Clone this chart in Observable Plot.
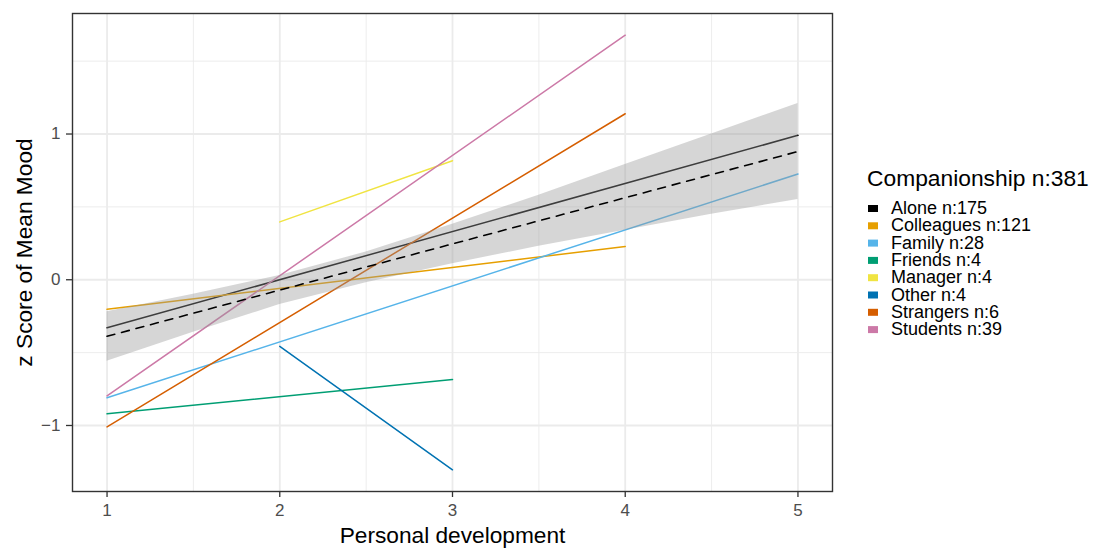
<!DOCTYPE html>
<html>
<head>
<meta charset="utf-8">
<script src="https://cdn.jsdelivr.net/npm/d3@7"></script>
<script src="https://cdn.jsdelivr.net/npm/@observablehq/plot@0.6"></script>
<style>
  html, body { margin: 0; padding: 0; background: white; }
  #wrap { position: relative; width: 1095px; height: 549px; font-family: "Liberation Sans", Arial, Helvetica, sans-serif; }
  #chart { position: absolute; left: 0; top: 0; }
  #legend { position: absolute; left: 850px; top: 0; }
</style>
</head>
<body>
<div id="wrap"><div id="chart"></div><svg id="legend" width="245" height="549"></svg></div>
<script>
// ---- data ----
const groups = ["Alone", "Colleagues", "Family", "Friends", "Manager", "Other", "Strangers", "Students"];
const counts = [175, 121, 28, 4, 4, 4, 6, 39];
const totalN = 381;
const colors = ["#000000", "#E69F00", "#56B4E9", "#009E73", "#F0E442", "#0072B2", "#D55E00", "#CC79A7"];
const xStart = [1, 1, 1, 1, 2, 2, 1, 1];
const xEnd   = [5, 4, 5, 3, 3, 3, 4, 4];
const yStart = [-0.330, -0.203, -0.810, -0.920, 0.397, -0.457, -1.010, -0.797];
const yEnd   = [0.991, 0.228, 0.726, -0.685, 0.817, -1.304, 1.139, 1.678];

const overallX = [1, 5];
const overallY = [-0.388, 0.880];

const bandX  = [1, 1.5, 2, 2.5, 3, 3.5, 4, 4.5, 5];
const bandLo = [-0.56, -0.36, -0.17, -0.02, 0.11, 0.23, 0.34, 0.45, 0.55];
const bandHi = [-0.22, -0.10, 0.03, 0.19, 0.38, 0.58, 0.79, 1.00, 1.21];

const xTicks = [1, 2, 3, 4, 5];
const xMinor = [1.5, 2.5, 3.5, 4.5];
const yTicks = [-1, 0, 1];
const yMinor = [-0.5, 0.5, 1.5];

// ---- tables built from arrays ----
const segs = [];
groups.forEach((g, i) => {
  segs.push({group: g, x: xStart[i], y: yStart[i]});
  segs.push({group: g, x: xEnd[i], y: yEnd[i]});
});
const overall = overallX.map((x, i) => ({x, y: overallY[i]}));
const band = bandX.map((x, i) => ({x, lo: bandLo[i], hi: bandHi[i]}));

const font = "Liberation Sans, Arial, Helvetica, sans-serif";
const fmt = d3.format("d");

const plot = Plot.plot({
  width: 850,
  height: 549,
  marginLeft: 72,
  marginRight: 18,
  marginTop: 13,
  marginBottom: 58,
  style: {fontFamily: font, background: "white", overflow: "visible"},
  x: {domain: [0.8, 5.2]},
  y: {domain: [-1.453, 1.827]},
  color: {domain: groups, range: colors},
  marks: [
    Plot.gridX(xMinor, {stroke: "#ebebeb", strokeOpacity: 1, strokeWidth: 0.9}),
    Plot.gridY(yMinor, {stroke: "#ebebeb", strokeOpacity: 1, strokeWidth: 0.9}),
    Plot.gridX(xTicks, {stroke: "#ebebeb", strokeOpacity: 1, strokeWidth: 1.8}),
    Plot.gridY(yTicks, {stroke: "#ebebeb", strokeOpacity: 1, strokeWidth: 1.8}),
    Plot.line(segs, {x: "x", y: "y", z: "group", stroke: "group", strokeWidth: 1.5}),
    Plot.areaY(band, {x: "x", y1: "lo", y2: "hi", fill: "#999999", fillOpacity: 0.4}),
    Plot.line(overall, {x: "x", y: "y", stroke: "black", strokeWidth: 1.6, strokeDasharray: "8,7"}),
    Plot.frame({stroke: "#333333", strokeWidth: 1.4}),
    Plot.axisX(xTicks, {tickSize: 6, tickPadding: 6, fontSize: 17, tickFormat: fmt, fill: "#4d4d4d", stroke: "#333333", strokeWidth: 1.3, label: null}),
    Plot.axisY(yTicks, {tickSize: 6, tickPadding: 6, fontSize: 17, tickFormat: fmt, fill: "#4d4d4d", stroke: "#333333", strokeWidth: 1.3, label: null}),
    Plot.text(["Personal development"], {frameAnchor: "bottom", lineAnchor: "bottom", textAnchor: "middle", dy: 51, fontSize: 22.7, fill: "black"}),
    Plot.text(["z Score of Mean Mood"], {frameAnchor: "left", lineAnchor: "bottom", textAnchor: "middle", rotate: -90, dx: -41, fontSize: 22.7, fill: "black"})
  ]
});
document.getElementById("chart").appendChild(plot);

// ---- legend ----
const lg = d3.select("#legend").style("font-family", font);
lg.append("text").attr("x", 17).attr("y", 186).attr("font-size", 22.8).attr("fill", "black")
  .text(`Companionship n:${totalN}`);
groups.forEach((g, i) => {
  const base = 214 + i * 17.3;
  lg.append("rect").attr("x", 18).attr("y", base - 9).attr("width", 10).attr("height", 7).attr("fill", colors[i]);
  lg.append("text").attr("x", 41).attr("y", base).attr("font-size", 18).attr("fill", "black")
    .text(`${g} n:${counts[i]}`);
});
</script>
</body>
</html>
